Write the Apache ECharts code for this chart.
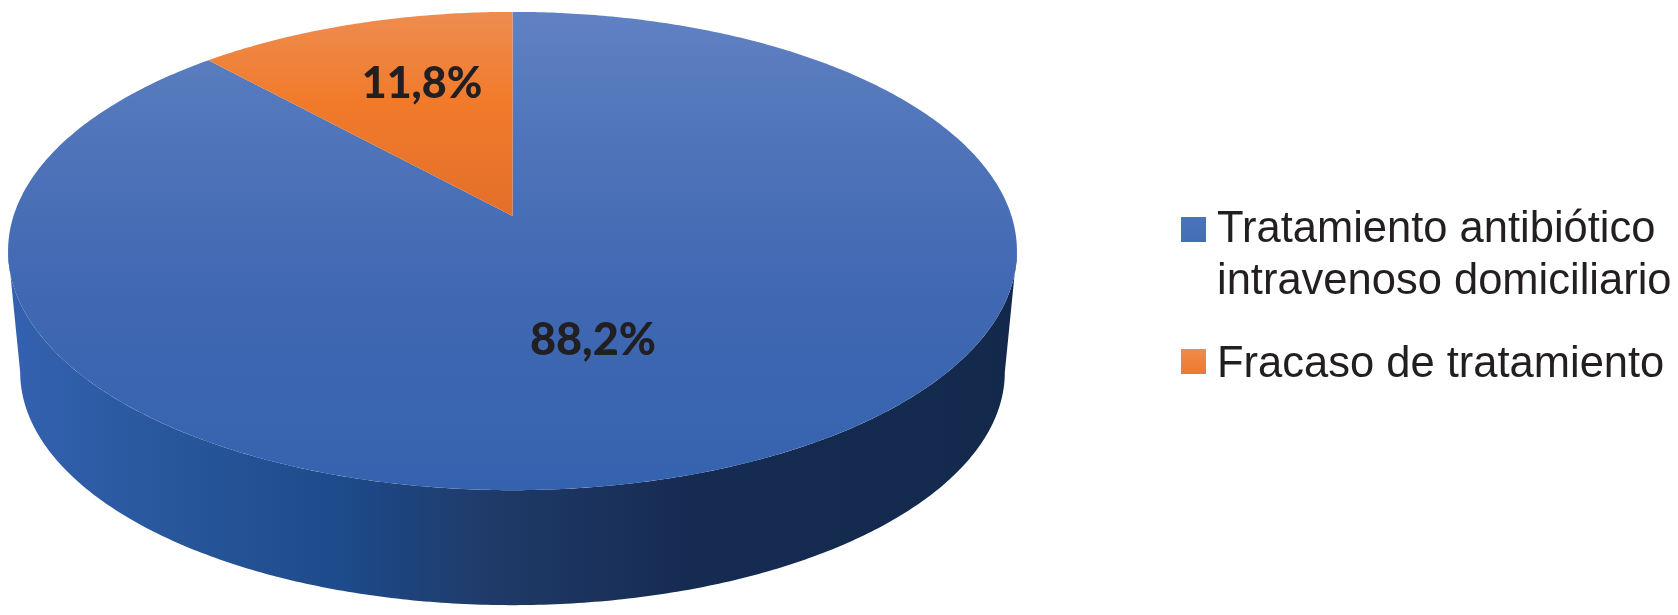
<!DOCTYPE html>
<html>
<head>
<meta charset="utf-8">
<style>html,body{margin:0;padding:0;background:#fff}#c{width:1678px;height:615px}</style>
<script src="https://cdn.jsdelivr.net/npm/echarts@6/dist/echarts.min.js"></script>
</head>
<body>
<div id="c"></div>
<script>
const categories = ['Tratamiento antibiótico\nintravenoso domiciliario', 'Fracaso de tratamiento'];
const values = [88.2, 11.8];
const valueLabels = ['88,2%', '11,8%'];
const labelAnchors = [[593, 340], [422, 84]];
const labelFonts = ['900 45px Lato', '900 43px Lato'];

const Grad = echarts.graphic.LinearGradient;
const face = [
  new Grad(0, 12, 0, 490, [{offset:0,color:'#6181c3'},{offset:.25,color:'#5075ba'},{offset:.55,color:'#4269b3'},{offset:1,color:'#3562ae'}], true),
  new Grad(0, 12, 0, 216, [{offset:0,color:'#ee8c50'},{offset:.45,color:'#f17a2a'},{offset:1,color:'#e36f2a'}], true)
];
const wallFill = new Grad(20, 0, 1005, 0, [
  {offset:0,color:'#3361b0'},{offset:.12,color:'#2a599f'},{offset:.33,color:'#1d4a8a'},
  {offset:.48,color:'#1f3a68'},{offset:.68,color:'#162b52'},{offset:1,color:'#13294c'}], true);

const K = 0.1465;
const TOP = {cx:512.5, cy:216, rx:499, ry:234};
const BASE = {cx:512.5, cy:338, rx:487, ry:228};
function proj(e, th) {
  const u = Math.sin(th), v = Math.cos(th), w = 1 + K * v;
  return [e.cx + e.rx * u / w, e.cy - e.ry * v / w];
}
const total = values.reduce((a, b) => a + b, 0);
function range(i) {
  const before = values.slice(0, i).reduce((a, b) => a + b, 0);
  return [before / total * 2 * Math.PI, (before + values[i]) / total * 2 * Math.PI];
}
function arc(e, a, b) {
  const n = Math.max(2, Math.ceil((b - a) / 0.01)), pts = [];
  for (let j = 0; j <= n; j++) pts.push(proj(e, a + (b - a) * j / n));
  return pts;
}
function renderSlice(i) {
  return function () {
    const [a, b] = range(i);
    const children = [];
    const fa = Math.acos(-K), fb = 2 * Math.PI - fa;
    const wa = Math.max(a, fa), wb = Math.min(b, fb);
    if (wb > wa) {
      const upper = arc(TOP, wa, wb), lower = arc(BASE, wa, wb).reverse();
      children.push({type:'polygon', shape:{points:upper.concat(lower)}, style:{fill:wallFill}});
    }
    const pts = [[TOP.cx, TOP.cy]].concat(arc(TOP, a, b));
    children.push({type:'polygon', shape:{points:pts}, style:{fill:face[i]}});
    children.push({type:'text', z2:5, style:{
      text:valueLabels[i], x:labelAnchors[i][0], y:labelAnchors[i][1],
      align:'center', verticalAlign:'middle',
      font:labelFonts[i], fill:'#211f22'
    }});
    return {type:'group', children};
  };
}
const series = categories.map((name, i) => ({
  name, type:'custom', coordinateSystem:'none', silent:true, animation:false,
  itemStyle:{color:['#3f68b2','#f0782c'][i]},
  data:[[values[i]]], renderItem:renderSlice(i), z:i===0?1:2
}));
const legendText = {fontFamily:'Liberation Sans', fontSize:43.5, lineHeight:52, color:'#231f20'};
const chart = echarts.init(document.getElementById('c'), null, {renderer:'canvas'});
chart.setOption({
  backgroundColor:'#fff',
  animation:false,
  legend:[
    {data:[categories[0]], left:1181, top:195.5, orient:'vertical', padding:0, selectedMode:false,
     itemWidth:25, itemHeight:78, icon:'path://M0 0H25V25H0Z M0 78H0.01V78.01H0Z',
     itemStyle:{color:new Grad(0,0,0,1,[{offset:0,color:'#4a73ba'},{offset:1,color:'#3462ae'}])},
     textStyle:{...legendText, padding:[17,0,0,6]}},
    {data:[categories[1]], left:1181, top:332.5, orient:'vertical', padding:0, selectedMode:false,
     itemWidth:25, itemHeight:31, icon:'path://M0 0H25V25H0Z M0 31H0.01V31.01H0Z',
     itemStyle:{color:new Grad(0,0,0,1,[{offset:0,color:'#f08a4a'},{offset:1,color:'#ee7526'}])},
     textStyle:{...legendText, padding:[12,0,0,6]}}
  ],
  series
});
</script>
</body>
</html>
